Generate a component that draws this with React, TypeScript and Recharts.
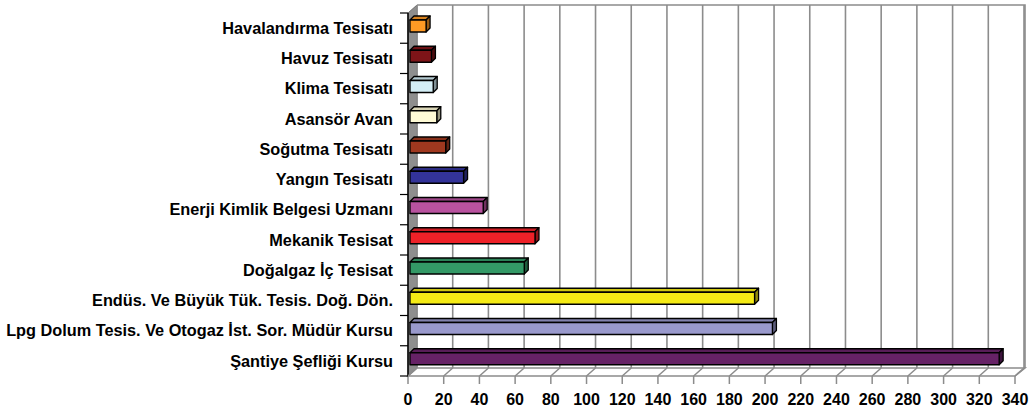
import { BarChart, Bar, XAxis, YAxis, CartesianGrid } from 'recharts';

const categories = [
  'Havalandırma Tesisatı',
  'Havuz Tesisatı',
  'Klima Tesisatı',
  'Asansör Avan',
  'Soğutma Tesisatı',
  'Yangın Tesisatı',
  'Enerji Kimlik Belgesi Uzmanı',
  'Mekanik Tesisat',
  'Doğalgaz İç Tesisat',
  'Endüs. Ve Büyük Tük. Tesis. Doğ. Dön.',
  'Lpg Dolum Tesis. Ve Otogaz İst. Sor. Müdür Kursu',
  'Şantiye Şefliği Kursu',
];

const counts = [9, 12, 13, 15, 20, 30, 41, 70, 64, 193, 203, 330];

const barColors = [
  '#ff9a24', // orange
  '#7e1418', // dark red
  '#d4eef6', // light cyan
  '#fffbd6', // cream
  '#a0381f', // brick
  '#333399', // navy
  '#b9529f', // pink-purple
  '#ee2128', // red
  '#339966', // green
  '#f5eb15', // yellow
  '#9999cc', // lavender
  '#662266', // plum
];

const xTicks = [0, 20, 40, 60, 80, 100, 120, 140, 160, 180, 200, 220, 240, 260, 280, 300, 320, 340];

const data = categories.map((name, i) => ({ name, count: counts[i], color: barColors[i] }));

// layout
const W = 1033;
const H = 412;
const LEFT = 408;
const TOP = 13;
const RIGHT = 1015;
const BOTTOM = 376;
const DX = 9; // wall depth
const DY = 8;
const BAR_D = 4; // bar depth
const BAND = (BOTTOM - TOP) / categories.length;
const GRID = '#8c8c8c';
const FONT = '"Liberation Sans", Arial, sans-serif';

function shade(hex: string, f: number) {
  const n = parseInt(hex.slice(1), 16);
  const r = Math.round(((n >> 16) & 255) * f);
  const g = Math.round(((n >> 8) & 255) * f);
  const b = Math.round((n & 255) * f);
  return `rgb(${r},${g},${b})`;
}

function Bar3D(props: any) {
  const { x, y, width, height, payload } = props;
  if (!width || width <= 0) return null;
  const fx = x + 2;
  const fy = y - 2;
  const c = payload.color;
  return (
    <g stroke="#000" strokeWidth={1.3} strokeLinejoin="round">
      <path
        d={`M${fx},${fy} L${fx + BAR_D},${fy - BAR_D} L${fx + width + BAR_D},${fy - BAR_D} L${fx + width},${fy} Z`}
        fill={shade(c, 0.85)}
      />
      <path
        d={`M${fx + width},${fy} L${fx + width + BAR_D},${fy - BAR_D} L${fx + width + BAR_D},${fy + height - BAR_D} L${fx + width},${fy + height} Z`}
        fill={shade(c, 0.6)}
      />
      <rect x={fx} y={fy} width={width} height={height} fill={c} />
    </g>
  );
}

function CatTick(props: any) {
  const { x, y, payload, index } = props;
  const last = index === categories.length - 1;
  return (
    <g>
      <line x1={x - 8} y1={y - BAND / 2} x2={x} y2={y - BAND / 2} stroke="#000" strokeWidth={1.2} />
      {last && <line x1={x - 8} y1={y + BAND / 2} x2={x} y2={y + BAND / 2} stroke="#000" strokeWidth={1.2} />}
      <text x={x - 15} y={y} dy={5.8} textAnchor="end" fontFamily={FONT} fontWeight="bold" fontSize={16.3} fill="#000">
        {payload.value}
      </text>
    </g>
  );
}

function ValueTick(props: any) {
  const { x, y, payload } = props;
  return (
    <g>
      <line x1={x} y1={y} x2={x} y2={y + 8} stroke={GRID} strokeWidth={1.5} />
      <line x1={x} y1={y} x2={x + DX} y2={y - DY} stroke={GRID} strokeWidth={1.5} />
      <text x={x} y={y + 29} textAnchor="middle" fontFamily={FONT} fontWeight="bold" fontSize={16} fill="#000">
        {payload.value}
      </text>
    </g>
  );
}

function BackLine(props: any) {
  const { x1, y1, x2, y2 } = props;
  return <line x1={x1 + DX} y1={y1 - DY} x2={x2 + DX} y2={y2 - DY} stroke={GRID} strokeWidth={1.6} />;
}

export default function App() {
  return (
    <div style={{ position: 'fixed', left: 0, top: 0, width: W, height: H, background: '#fff' }}>
      <svg width={W} height={H} style={{ position: 'absolute', left: 0, top: 0 }}>
        {/* left wall */}
        <polygon
          points={`${LEFT},${TOP} ${LEFT + DX},${TOP - DY} ${LEFT + DX},${BOTTOM - DY} ${LEFT},${BOTTOM}`}
          fill="#8e8e8e"
          stroke="#6e6e6e"
          strokeWidth={1}
        />
        {/* floor */}
        <polygon
          points={`${LEFT},${BOTTOM} ${LEFT + DX},${BOTTOM - DY} ${RIGHT + DX + 1},${BOTTOM - DY} ${RIGHT},${BOTTOM}`}
          fill="#fff"
          stroke={GRID}
          strokeWidth={1.5}
        />
        {/* back wall frame */}
        <polyline
          points={`${LEFT + DX},${TOP - DY} ${RIGHT + DX + 1},${TOP - DY} ${RIGHT + DX + 1},${BOTTOM - DY}`}
          fill="none"
          stroke={GRID}
          strokeWidth={1.6}
        />
      </svg>
      <div style={{ position: 'absolute', left: 0, top: 0 }}>
        <BarChart
          width={W}
          height={H}
          data={data}
          layout="vertical"
          barSize={12}
          margin={{ top: TOP, right: W - RIGHT, bottom: 0, left: 0 }}
        >
          <CartesianGrid horizontal={false} vertical={BackLine} />
          <XAxis
            type="number"
            domain={[0, 340]}
            ticks={xTicks}
            interval={0}
            axisLine={false}
            tickLine={false}
            tickSize={0}
            tickMargin={0}
            height={H - BOTTOM}
            tick={ValueTick}
          />
          <YAxis
            type="category"
            dataKey="name"
            width={LEFT}
            interval={0}
            axisLine={{ stroke: '#000', strokeWidth: 1.5 }}
            tickLine={false}
            tickSize={0}
            tickMargin={0}
            tick={CatTick}
          />
          <Bar dataKey="count" shape={Bar3D} isAnimationActive={false} />
        </BarChart>
      </div>
    </div>
  );
}
